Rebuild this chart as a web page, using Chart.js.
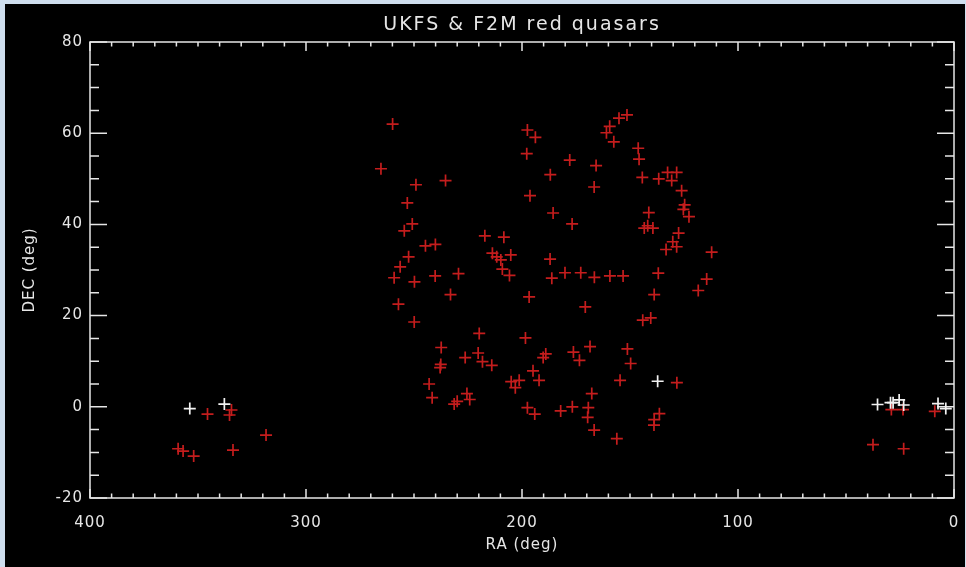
<!DOCTYPE html>
<html>
<head>
<meta charset="utf-8">
<title>UKFS &amp; F2M red quasars</title>
<script src="https://cdn.jsdelivr.net/npm/chart.js@4.4.1/dist/chart.umd.min.js"></script>
<style>
  html, body { margin: 0; padding: 0; background: #cfdeee; }
  #wrap { position: absolute; left: 5px; top: 4px; width: 960px; height: 563px; background: #000; }
</style>
</head>
<body>
<div id="wrap"><canvas id="quasarChart" width="960" height="563"></canvas></div>
<script>
/* =========================
   DATA
========================= */

const titleText = "UKFS & F2M red quasars";

const xTickValues = [400, 300, 200, 100, 0];
const yTickValues = [-20, 0, 20, 40, 60, 80];

// red crosses: RA / DEC in degrees
const redRA = [
    345.6, 334.5, 335.4, 359.2, 356.9, 352.0, 333.8, 318.5,
    29.0, 23.6, 8.9, 37.5, 23.3,
    259.9, 265.3, 249.1, 235.4, 253.1, 250.8, 254.5, 244.7, 240.1, 252.5,
    256.4, 259.2, 249.8, 240.2, 229.4, 233.1, 257.2, 249.9, 219.8, 237.4,
    226.3, 220.3, 237.6, 237.9, 243.0, 241.6, 225.5, 224.2, 230.0, 231.4,
    197.5, 193.8, 197.8, 155.1, 151.4, 159.4, 160.9, 157.5, 146.2, 145.8,
    177.9, 165.7, 186.9, 144.3, 136.7, 132.6, 128.4, 130.7, 126.1, 166.6,
    196.3, 124.7, 125.3, 122.7, 141.3, 185.6, 176.8, 141.8, 143.4, 139.4,
    127.5, 130.2, 133.3, 128.4, 112.2, 217.2, 208.4, 213.7, 211.7, 209.8,
    205.2, 209.1, 205.8, 187.0, 186.2, 180.1, 172.8, 166.5, 159.3, 153.2,
    136.9, 114.5, 118.4, 196.7, 138.8,
    170.7, 144.1, 140.4, 198.4, 218.3, 214.0, 189.0, 190.2, 176.2, 173.4,
    168.5, 151.2, 149.7, 194.9, 205.0, 201.3, 203.1, 192.1, 154.6, 128.3,
    167.7, 197.5, 194.1, 182.1, 176.7, 169.3, 169.6, 166.6, 156.1, 136.4,
    138.8, 138.9
];

const redDEC = [
    -1.6, -0.7, -1.8, -9.2, -9.7, -10.8, -9.5, -6.2,
    -0.6, -0.6, -1.0, -8.3, -9.2,
    62.0, 52.2, 48.7, 49.6, 44.7, 40.1, 38.6, 35.3, 35.6, 32.9,
    30.7, 28.3, 27.4, 28.7, 29.2, 24.6, 22.5, 18.6, 16.1, 13.0,
    10.8, 11.8, 9.3, 8.6, 5.0, 2.0, 2.9, 1.6, 1.2, 0.6,
    60.7, 59.1, 55.5, 63.3, 64.0, 61.5, 60.1, 58.1, 56.7, 54.3,
    54.1, 52.9, 50.9, 50.3, 50.0, 51.4, 51.4, 49.6, 47.4, 48.2,
    46.3, 44.3, 43.3, 41.7, 42.6, 42.5, 40.1, 39.7, 39.2, 39.2,
    38.1, 36.2, 34.5, 35.1, 33.9, 37.5, 37.2, 33.7, 32.9, 32.2,
    33.3, 30.2, 28.8, 32.4, 28.2, 29.4, 29.4, 28.4, 28.7, 28.7,
    29.3, 28.0, 25.5, 24.1, 24.6,
    21.9, 19.0, 19.5, 15.1, 9.9, 9.1, 11.6, 10.8, 12.0, 10.2,
    13.2, 12.7, 9.5, 7.9, 5.5, 5.8, 4.2, 5.8, 5.8, 5.3,
    2.9, -0.2, -1.6, -0.9, 0.0, -0.2, -2.3, -5.1, -7.0, -1.5,
    -2.8, -4.0
];

// white crosses
const whiteRA  = [353.8, 337.8, 35.4, 29.4, 28.2, 25.4, 23.3, 7.4, 3.8, 137.2];
const whiteDEC = [-0.4, 0.6, 0.5, 0.9, 0.9, 1.5, 0.4, 0.7, -0.4, 5.6];


/* =========================
   STYLE
========================= */

const fg = '#e6e6e6';
const red = '#c41d1d';
const font = { family: 'DejaVu Sans', size: 15 };

const xMinorStep = 10, xMajorStep = 100;
const yMinorStep = 5, yMajorStep = 20;

function toPoints(xs, ys){
    return xs.map((v, i) => ({ x: v, y: ys[i] }));
}


/* =========================
   IDL STYLE FRAME PLUGIN
========================= */

const idlFramePlugin = {
    id: 'idlFrame',

    beforeDraw(chart){
        const ctx = chart.ctx;
        ctx.save();
        ctx.fillStyle = '#000';
        ctx.fillRect(0, 0, chart.width, chart.height);
        ctx.restore();
        ctx.letterSpacing = '1px';
    },

    beforeDatasetsDraw(chart){
        const { ctx, chartArea: { left, right, top, bottom }, scales: { x, y } } = chart;

        ctx.save();
        ctx.strokeStyle = fg;
        ctx.lineWidth = 1.5;
        ctx.strokeRect(left, top, right - left, bottom - top);

        ctx.beginPath();
        // x ticks, bottom and top, pointing in
        for(let v = x.min; v <= x.max; v += xMinorStep){
            const px = x.getPixelForValue(v);
            const len = (v % xMajorStep === 0) ? 9 : 4.5;
            ctx.moveTo(px, bottom); ctx.lineTo(px, bottom - len);
            ctx.moveTo(px, top);    ctx.lineTo(px, top + len);
        }
        // y ticks, left and right
        for(let v = y.min; v <= y.max; v += yMinorStep){
            const py = y.getPixelForValue(v);
            const len = (v % yMajorStep === 0) ? 17 : 9;
            ctx.moveTo(left, py);  ctx.lineTo(left + len, py);
            ctx.moveTo(right, py); ctx.lineTo(right - len, py);
        }
        ctx.stroke();
        ctx.restore();
    },

    afterDraw(chart){
        const { ctx, chartArea: { left, right } } = chart;
        ctx.save();
        ctx.letterSpacing = '2px';
        ctx.font = '19px "DejaVu Sans"';
        ctx.fillStyle = fg;
        ctx.textAlign = 'center';
        ctx.textBaseline = 'middle';
        ctx.fillText(titleText, (left + right) / 2, 21);
        ctx.restore();
    }
};


/* =========================
   CHART
========================= */

const chart = new Chart(document.getElementById('quasarChart'), {
    type: 'scatter',

    data: {
        datasets: [
            {
                label: 'white',
                data: toPoints(whiteRA, whiteDEC),
                pointStyle: 'cross',
                pointRadius: 6,
                pointBorderWidth: 1.7,
                borderColor: '#f2f2f2',
                backgroundColor: '#f2f2f2'
            },
            {
                label: 'red',
                data: toPoints(redRA, redDEC),
                pointStyle: 'cross',
                pointRadius: 6,
                pointBorderWidth: 1.7,
                borderColor: red,
                backgroundColor: red
            }
        ]
    },

    options: {
        responsive: false,
        animation: false,
        clip: false,
        layout: { autoPadding: false, padding: { top: 38, right: 11, bottom: 0, left: 0 } },

        plugins: {
            legend: { display: false },
            tooltip: { enabled: false },
            title: { display: false }
        },

        scales: {
            x: {
                type: 'linear',
                reverse: true,
                min: 0,
                max: 400,
                afterBuildTicks: s => { s.ticks = xTickValues.map(v => ({ value: v })); },
                afterFit: s => {
                    s.height = 69;
                    s.paddingLeft = 0;
                    s.paddingRight = 0;
                },
                grid: { display: false, drawTicks: false },
                border: { display: false },
                ticks: {
                    color: fg, font: font, padding: 16,
                    maxRotation: 0, autoSkip: false,
                    callback: v => String(v)
                },
                title: {
                    display: true, text: 'RA (deg)', color: fg, font: font,
                    padding: { top: 0, bottom: 13 }
                }
            },

            y: {
                type: 'linear',
                min: -20,
                max: 80,
                afterBuildTicks: s => { s.ticks = yTickValues.map(v => ({ value: v })); },
                afterFit: s => {
                    s.width = 85;
                    s.paddingTop = 0;
                    s.paddingBottom = 0;
                },
                grid: { display: false, drawTicks: false },
                border: { display: false },
                ticks: {
                    color: fg, font: font, padding: 7,
                    autoSkip: false,
                    callback: v => String(v)
                },
                title: {
                    display: true, text: 'DEC (deg)', color: fg, font: font,
                    padding: { top: 16, bottom: 0 }
                }
            }
        }
    },

    plugins: [idlFramePlugin]
});
</script>
</body>
</html>
